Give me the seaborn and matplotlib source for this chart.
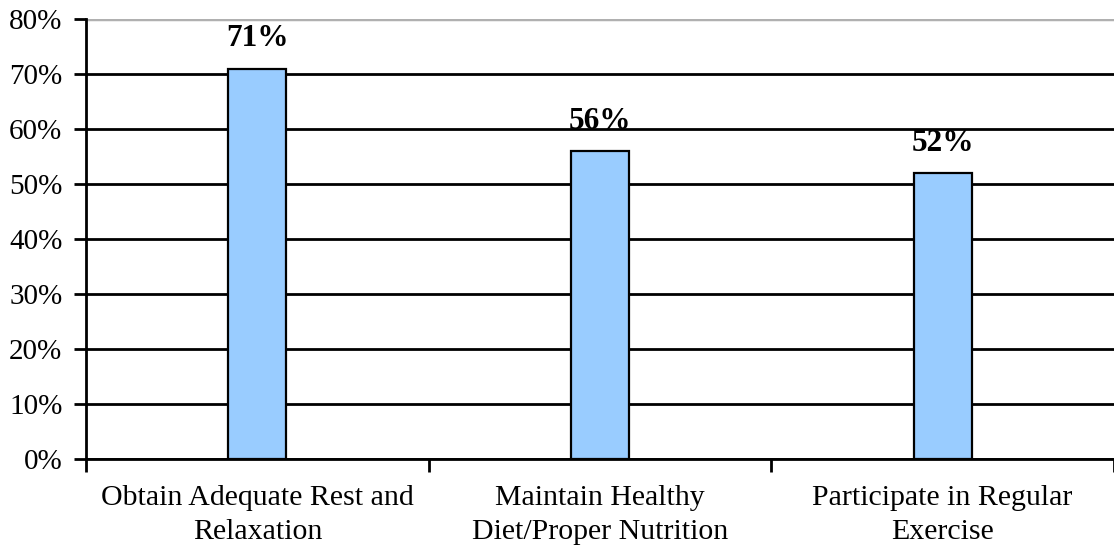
import matplotlib
matplotlib.use("Agg")
import matplotlib.pyplot as plt
import seaborn as sns
import pandas as pd
from matplotlib.ticker import FixedLocator, PercentFormatter

categories = [
    "Obtain Adequate Rest and\nRelaxation",
    "Maintain Healthy\nDiet/Proper Nutrition",
    "Participate in Regular\nExercise",
]
shares = [0.71, 0.56, 0.52]
y_ticks = [0.0, 0.1, 0.2, 0.3, 0.4, 0.5, 0.6, 0.7, 0.8]

sns.set_theme(style="white")
plt.rcParams["font.family"] = ["Liberation Serif", "DejaVu Serif"]
plt.rcParams["text.color"] = "black"
plt.rcParams["xtick.color"] = "black"
plt.rcParams["ytick.color"] = "black"

df = pd.DataFrame({"category": categories, "share": shares})

fig = plt.figure(figsize=(11.14, 5.52), dpi=100)
ax = fig.add_axes([0.0772, 0.1685, 0.9228, 0.797])

sns.barplot(data=df, x="category", y="share", color="#99CCFF", width=0.17,
            edgecolor="black", linewidth=1.6, saturation=1, ax=ax, zorder=3)

ax.set_ylim(0, 0.8)
ax.set_xlim(-0.5, 2.5)
ax.yaxis.set_major_locator(FixedLocator(y_ticks))
ax.yaxis.set_major_formatter(PercentFormatter(1.0, decimals=0))

# horizontal gridlines: black, with the 80% line in grey
ax.grid(axis="y", color="black", linewidth=2)
ax.grid(axis="x", visible=False)
fig.canvas.draw()
gl = ax.yaxis.get_gridlines()
gl[-1].set_color("#b0b0b0")
gl[-1].set_linewidth(2.5)

ax.spines["right"].set_visible(False)
ax.spines["top"].set_visible(False)
ax.spines["left"].set_color("black")
ax.spines["left"].set_linewidth(2)
ax.spines["bottom"].set_color("black")
ax.spines["bottom"].set_linewidth(2)

ax.tick_params(axis="y", which="major", direction="out", length=9, width=2,
               color="black", labelcolor="black", labelsize=21, pad=8, left=True)
ax.tick_params(axis="x", which="major", length=0, labelsize=21.5,
               labelcolor="black", pad=19)
ax.set_xticks([-0.5, 0.5, 1.5, 2.5], minor=True)
ax.tick_params(axis="x", which="minor", direction="out", length=9, width=2,
               color="black", bottom=True)
ax.set_xlabel("")
ax.set_ylabel("")
for lbl in ax.get_xticklabels():
    lbl.set_multialignment("center")
    lbl.set_linespacing(1.4)

for i, v in enumerate(shares):
    ax.text(i, v + 0.028, f"{round(v * 100)}%", ha="center", va="bottom",
            fontsize=22.5, fontweight="bold", color="black", zorder=4)

fig.savefig("out.png", dpi=100)
